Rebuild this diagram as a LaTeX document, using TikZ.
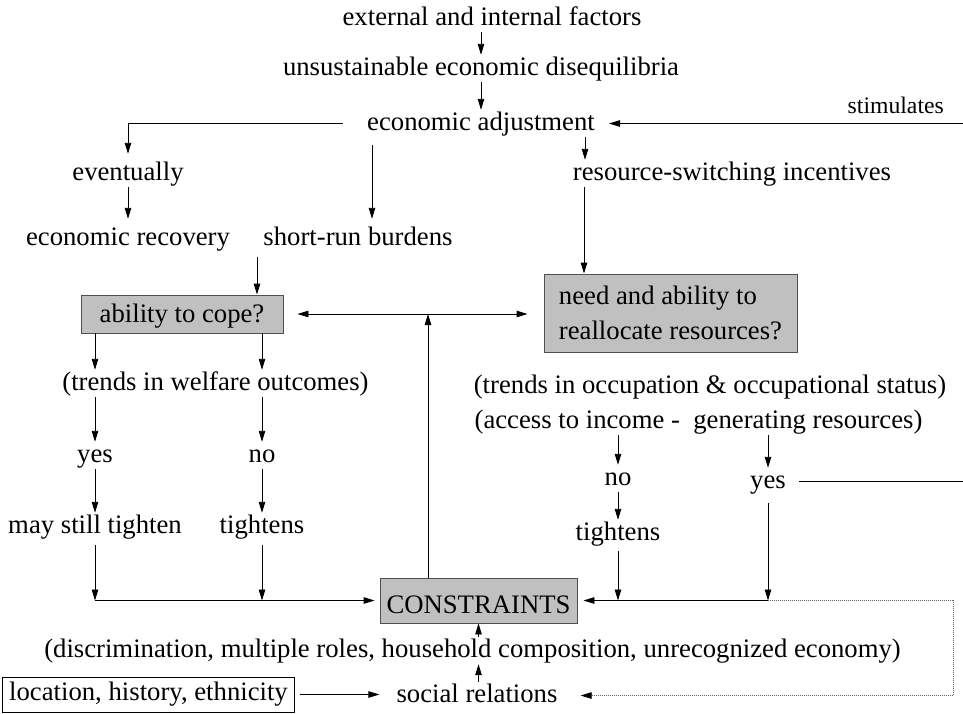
\documentclass[tikz,border=0pt]{standalone}
\usepackage{fontspec}
\setmainfont{Liberation Serif}
\usetikzlibrary{arrows.meta}
\definecolor{boxgray}{HTML}{C0C0C0}
\definecolor{edgegray}{HTML}{505050}
\newcommand{\diagfont}{\fontsize{26.7}{35}\selectfont}
\tikzset{
  lbl/.style={font=\diagfont,inner sep=1pt,text height=19pt,text depth=6pt,anchor=base},
  smalllbl/.style={font=\fontsize{23.7}{28}\selectfont,inner sep=1pt,anchor=base east},
  shadebox/.style={rectangle,draw=edgegray,line width=0.9pt,fill=boxgray,font=\diagfont,inner sep=3pt},
  plainbox/.style={rectangle,draw=black,line width=0.9pt,font=\diagfont,inner sep=3pt},
  arrow/.style={-{Triangle[length=11pt,width=6.5pt]},line width=0.9pt},
  twoway/.style={{Triangle[length=11pt,width=6.5pt]}-{Triangle[length=11pt,width=6.5pt]},line width=0.9pt},
  plainline/.style={line width=0.9pt},
  dotline/.style={-{Triangle[length=11pt,width=6.5pt,black]},line width=0.8pt,black!60,dash pattern=on 1pt off 1pt}
}

\begin{document}
\begin{tikzpicture}[x=1pt,y=-1pt]
  \useasboundingbox (0,0) rectangle (963,713);
  \coordinate (rEdge) at (963,0);
  \coordinate (dotX) at (953,0);

  \node[lbl] (factors) at (492,25) {external and internal factors};
  \node[lbl] (diseq) at (481,75) {unsustainable economic disequilibria};
  \node[lbl] (adjust) at (481,130) {economic adjustment};
  \node[smalllbl] (stim) at (945,113) {stimulates};
  \node[lbl] (eventually) at (128,180) {eventually};
  \node[lbl] (recovery) at (128,245) {economic recovery};
  \node[lbl] (burdens) at (358,245) {short-run burdens};
  \node[lbl] (incentives) at (732,180) {resource-switching incentives};
  \node[shadebox,minimum width=202pt,minimum height=38pt,text height=19pt,text depth=3pt] (cope) at (182,314) {ability to cope?};
  \node[shadebox,minimum width=253pt,minimum height=78pt,align=left] (need) at (670.5,313) {need and ability to\\reallocate resources?};
  \node[lbl] (welfare) at (215.5,390) {(trends in welfare outcomes)};
  \node[lbl] (yesL) at (95,462) {yes};
  \node[lbl] (noL) at (262,462) {no};
  \node[lbl] (maystill) at (95,533) {may still tighten};
  \node[lbl] (tightL) at (262,533) {tightens};
  \node[lbl] (occup) at (710,393) {(trends in occupation \& occupational status)};
  \node[lbl] (access) at (698.5,428) {(access to income -\ \ generating resources)};
  \node[lbl] (noR) at (618,485) {no};
  \node[lbl] (yesR) at (768,488) {yes};
  \node[lbl] (tightR) at (618,540) {tightens};
  \node[shadebox,minimum width=197pt,minimum height=45pt,text height=26pt,text depth=0pt] (constr) at (478.5,600.5) {CONSTRAINTS};
  \node[lbl] (discr) at (472.5,657) {(discrimination, multiple roles, household composition, unrecognized economy)};
  \node[lbl] (social) at (477,702) {social relations};
  \node[plainbox,minimum width=292pt,minimum height=35pt] (loc) at (148.5,694.5) {location, history, ethnicity};

  \coordinate (jL1) at (maystill |- constr.west);
  \coordinate (jL2) at (tightL |- constr.west);
  \coordinate (jR1) at (tightR |- constr.east);
  \coordinate (jR2) at (yesR |- constr.east);
  \coordinate (dotC) at (dotX |- social.east);

  \draw[arrow] (factors.south -| diseq) -- (diseq);
  \draw[arrow] (diseq) -- (adjust);
  \draw[arrow,shorten <=23pt,shorten >=6pt] (adjust.west) -| (eventually);
  \draw[arrow,shorten >=6pt] (eventually) -- (recovery);
  \draw[arrow,shorten <=8pt,shorten >=6pt] ([xshift=-109pt]adjust.south) -- ([xshift=14pt]burdens.north);
  \draw[arrow] ([xshift=104pt]adjust.south) -- ([xshift=-147pt]incentives.north);
  \draw[arrow] ([xshift=-148pt]incentives.south) -- ([xshift=-148pt]incentives.south |- need.north);
  \draw[arrow,shorten >=13pt] (adjust.east -| rEdge) -- (adjust.east);
  \draw[arrow,shorten <=5pt] ([xshift=-101pt]burdens.south) -- ([xshift=-101pt]burdens.south |- cope.north);
  \draw[twoway,shorten <=14pt,shorten >=16pt] (cope.east) -- (cope.east -| need.west);
  \draw[arrow] ([xshift=-50.5pt]constr.north) -- ([xshift=-50.5pt]constr.north |- cope.east);

  \draw[arrow] (cope.south -| yesL) -- (welfare.north -| yesL);
  \draw[arrow] (cope.south -| noL) -- (welfare.north -| noL);
  \draw[arrow] (welfare.south -| yesL) -- (yesL);
  \draw[arrow] (welfare.south -| noL) -- (noL);
  \draw[arrow] (yesL) -- (maystill);
  \draw[arrow] (noL) -- (tightL);
  \draw[arrow,shorten <=5pt] (maystill) -- (jL1);
  \draw[arrow,shorten <=5pt] (tightL) -- (jL2);
  \draw[arrow,shorten >=5pt] (jL1) -- (constr.west);

  \draw[arrow] (access.south -| noR) -- (noR);
  \draw[arrow] (access.south -| yesR) -- (yesR);
  \draw[arrow] (noR) -- (tightR);
  \draw[arrow,shorten <=4pt] (tightR) -- (jR1);
  \draw[arrow,shorten <=8pt] (yesR) -- (jR2);
  \draw[arrow,shorten >=6pt] (jR2) -- (constr.east);
  \draw[plainline,shorten <=12pt] (yesR.east) -- (yesR.east -| rEdge);
  \draw[dotline,shorten >=22pt] (jR2) -| (dotC) -- (social.east);

  \draw[arrow,shorten <=5pt,shorten >=16pt] (loc.east) -- (loc.east -| social.west);
  \draw[arrow] (social.north -| constr.south) -- (discr.south -| constr.south);
  \draw[arrow] (discr.north -| constr.south) -- (constr.south);
\end{tikzpicture}
\end{document}
